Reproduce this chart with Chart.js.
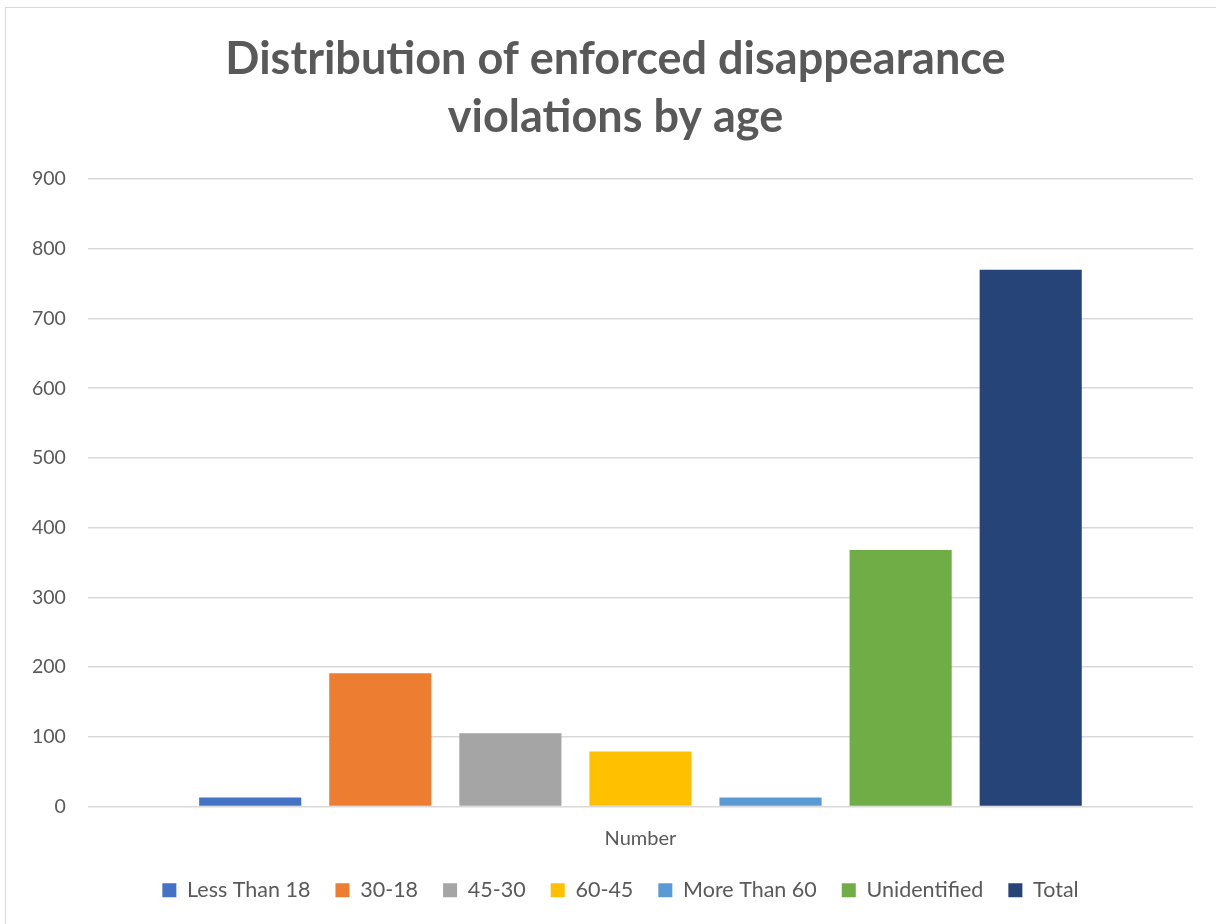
<!DOCTYPE html>
<html>
<head>
<meta charset="utf-8">
<script src="https://cdn.jsdelivr.net/npm/chart.js@4/dist/chart.umd.min.js"></script>
<style>
  html, body { margin: 0; padding: 0; background: #fff; }
  #wrap { position: absolute; left: 0; top: 0; width: 1216px; height: 924px; }
  #frame { position: absolute; left: 5px; top: 7px; width: 1240px; height: 940px; border: 1px solid #d9d9d9; }
</style>
</head>
<body>
<div id="frame"></div>
<div id="wrap"><canvas id="c" width="1216" height="924"></canvas></div>
<script>
const categories = ['Number'];
const seriesNames = ['Less Than 18', '30-18', '45-30', '60-45', 'More Than 60', 'Unidentified', 'Total'];
const seriesValues = [13, 191, 105, 79, 13, 368, 770];
const seriesColors = ['#4472c4', '#ed7d31', '#a5a5a5', '#ffc000', '#5b9bd5', '#70ad47', '#264478'];
const yTicks = [0, 100, 200, 300, 400, 500, 600, 700, 800, 900];

const FONT = 'Lato, "Open Sans", sans-serif';
const GREY = '#595959';

// title and legend are centred on the whole frame, not on the padded area
const centreShift = {
  id: 'centreShift',
  afterLayout(chart) {
    const t = chart.titleBlock;
    if (t) { t.left += 14; t.right += 14; }
    const l = chart.legend;
    if (l) { l.left += 19; l.right += 19; }
  }
};

new Chart(document.getElementById('c'), {
  type: 'bar',
  data: {
    labels: categories,
    datasets: seriesNames.map((name, i) => ({
      label: name,
      data: [seriesValues[i]],
      backgroundColor: seriesColors[i],
      borderWidth: 0,
      barPercentage: 0.785,
      categoryPercentage: 0.824
    }))
  },
  options: {
    responsive: false,
    animation: false,
    layout: { padding: { left: 10, right: 23, top: 30, bottom: 13 } },
    plugins: {
      title: {
        display: true,
        text: ['Distribution of enforced disappearance', 'violations by age'],
        color: GREY,
        font: { family: FONT, size: 45, weight: 'bold', lineHeight: 1.29 },
        padding: { top: 0, bottom: 33 }
      },
      legend: {
        position: 'bottom',
        labels: {
          color: GREY,
          font: { family: FONT, size: 21.5 },
          boxWidth: 14,
          boxHeight: 14,
          padding: 25
        }
      },
      tooltip: { enabled: false }
    },
    scales: {
      x: {
        grid: { display: false },
        border: { display: false },
        ticks: { color: GREY, font: { family: FONT, size: 20 }, padding: 12 },
        afterFit: s => { s.height = 48; }
      },
      y: {
        min: 0,
        max: 900,
        afterBuildTicks: axis => { axis.ticks = yTicks.map(v => ({ value: v })); },
        grid: { color: '#d9d9d9', lineWidth: 1.5, drawTicks: false },
        border: { display: false },
        ticks: { color: GREY, font: { family: FONT, size: 19.5 }, padding: 22 }
      }
    }
  },
  plugins: [centreShift]
});
</script>
</body>
</html>
